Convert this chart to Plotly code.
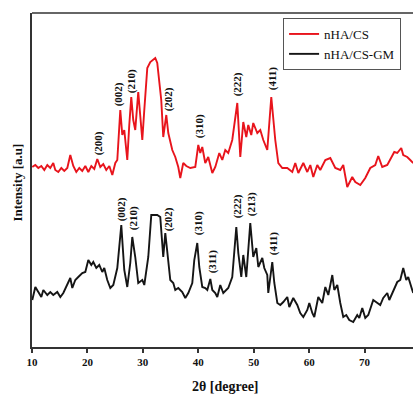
import plotly.graph_objects as go

# ---- data (2theta in degrees, intensity in arbitrary units) ----
cs_2theta = [
    10.05, 10.60, 11.14, 11.68, 12.22, 12.76, 13.30, 13.84, 14.20, 14.74,
    15.29, 15.83, 16.37, 16.91, 17.45, 17.99, 18.53, 19.07, 19.62, 20.16,
    20.70, 21.24, 21.78, 22.32, 22.86, 23.40, 23.95, 24.49, 25.03, 25.39,
    25.93, 26.29, 26.65, 27.19, 27.55, 27.91, 28.27, 28.63, 29.17, 29.53,
    29.90, 30.26, 30.80, 31.34, 31.88, 32.24, 32.60, 32.96, 33.32, 33.68,
    34.23, 34.59, 35.31, 35.85, 36.39, 36.75, 37.29, 37.84, 38.56, 39.46,
    40.00, 40.36, 40.72, 41.26, 41.80, 42.53, 43.07, 43.79, 44.33, 44.87,
    45.41, 46.13, 47.04, 47.58, 48.12, 48.66, 49.02, 49.56, 49.92, 50.65,
    51.19, 51.73, 52.45, 53.17, 53.89, 54.44, 55.16, 56.06, 56.96, 57.50,
    58.05, 58.95, 59.67, 60.21, 60.75, 61.47, 62.01, 62.92, 63.82, 64.72,
    65.62, 66.16, 66.88, 67.78, 68.33, 69.23, 70.13, 71.03, 71.93, 72.47,
    73.19, 74.10, 74.64, 75.36, 75.90, 76.62, 76.98, 77.70, 78.24, 78.78,
]
cs_intensity = [
    180, 182, 179, 181, 177, 182, 179, 184, 177, 175,
    179, 176, 179, 192, 181, 175, 179, 176, 181, 175,
    181, 178, 188, 180, 183, 177, 181, 172, 184, 187,
    237, 212, 217, 187, 222, 250, 227, 217, 255, 232,
    207, 237, 279, 285, 287, 289, 284, 267, 247, 210,
    232, 214, 197, 190, 180, 169, 184, 181, 179, 180,
    202, 194, 200, 184, 190, 174, 180, 194, 187, 197,
    194, 207, 244, 190, 225, 210, 222, 212, 224, 214,
    217, 207, 197, 250, 207, 184, 179, 179, 175, 184,
    174, 184, 175, 182, 170, 182, 177, 187, 189, 179,
    177, 182, 160, 170, 165, 162, 169, 179, 182, 191,
    180, 182, 187, 195, 194, 199, 192, 190, 187, 184,
]

gm_2theta = [
    10.05, 10.60, 11.14, 11.68, 12.04, 12.76, 13.30, 13.84, 14.56, 15.11,
    15.65, 16.37, 16.91, 17.27, 17.81, 18.35, 19.07, 19.62, 20.16, 20.70,
    21.06, 21.60, 22.14, 22.68, 23.04, 23.58, 24.13, 24.67, 25.39, 26.11,
    26.65, 27.19, 27.73, 28.09, 28.63, 29.17, 29.90, 30.26, 30.98, 31.52,
    32.60, 33.14, 33.68, 34.05, 34.41, 34.95, 35.49, 35.85, 36.39, 37.11,
    37.66, 38.20, 38.92, 39.28, 39.82, 40.18, 40.72, 41.26, 41.63, 42.17,
    42.53, 43.07, 43.43, 43.97, 44.51, 45.05, 45.41, 46.13, 46.86, 47.22,
    47.76, 48.12, 48.66, 49.38, 49.92, 50.47, 50.83, 51.55, 51.91, 52.45,
    52.63, 53.35, 53.72, 54.26, 54.80, 55.34, 56.06, 56.42, 57.14, 57.86,
    58.40, 58.95, 59.67, 60.03, 60.57, 60.93, 61.65, 62.37, 62.92, 63.46,
    64.18, 64.54, 65.08, 65.62, 66.16, 66.70, 67.24, 67.96, 68.68, 69.05,
    69.59, 70.13, 70.67, 71.57, 72.29, 72.83, 73.37, 74.10, 74.46, 75.18,
    75.90, 76.44, 76.98, 77.52, 77.88, 78.60, 78.78,
]
gm_intensity = [
    47, 60, 55, 50, 57, 52, 55, 52, 55, 50,
    54, 62, 69, 59, 67, 70, 74, 75, 87, 82,
    85, 79, 82, 75, 79, 67, 59, 62, 79, 122,
    77, 60, 84, 110, 90, 64, 67, 62, 90, 132,
    132, 130, 90, 114, 97, 67, 64, 57, 59, 55,
    49, 54, 64, 87, 104, 80, 60, 59, 57, 68,
    57, 54, 50, 62, 54, 57, 59, 70, 120, 94,
    70, 92, 70, 124, 90, 99, 80, 89, 79, 72,
    54, 85, 64, 44, 42, 45, 50, 40, 49, 42,
    34, 30, 37, 44, 34, 30, 50, 44, 60, 52,
    72, 57, 62, 44, 30, 32, 27, 25, 32, 29,
    39, 29, 32, 47, 44, 42, 49, 54, 47, 57,
    65, 67, 79, 67, 70, 57, 54,
]

# peak labels: (hkl text, 2theta, label base height)
cs_peak_labels = ["(200)", "(002)", "(210)", "(202)", "(310)", "(222)", "(411)"]
cs_peak_2theta = [21.96, 25.57, 27.91, 34.59, 40.18, 47.04, 53.35]
cs_peak_base = [190, 239, 252, 234, 207, 249, 255]

gm_peak_labels = ["(002)", "(210)", "(202)", "(310)", "(311)", "(222)", "(213)", "(411)"]
gm_peak_2theta = [26.11, 28.27, 34.59, 40.00, 42.53, 47.04, 49.56, 53.53]
gm_peak_base = [124, 115, 114, 110, 72, 127, 129, 90]

x_ticks = [10, 20, 30, 40, 50, 60, 70]

FONT = "Liberation Serif"
RED = "#e8141c"
BLACK = "#151515"
AXIS = "#333333"

fig = go.Figure()
fig.add_trace(go.Scatter(x=cs_2theta, y=cs_intensity, mode="lines", name="nHA/CS",
                         line=dict(color=RED, width=1.9)))
fig.add_trace(go.Scatter(x=gm_2theta, y=gm_intensity, mode="lines", name="nHA/CS-GM",
                         line=dict(color=BLACK, width=1.9)))

annotations = []
for txt, xv, yv in zip(cs_peak_labels, cs_peak_2theta, cs_peak_base):
    annotations.append(dict(x=xv, y=yv, xref="x", yref="y", text=txt, textangle=-90,
                            showarrow=False, xanchor="center", yanchor="bottom",
                            font=dict(family=FONT, size=11, color="#111", weight="bold")))
for txt, xv, yv in zip(gm_peak_labels, gm_peak_2theta, gm_peak_base):
    annotations.append(dict(x=xv, y=yv, xref="x", yref="y", text=txt, textangle=-90,
                            showarrow=False, xanchor="center", yanchor="bottom",
                            font=dict(family=FONT, size=11, color="#111", weight="bold")))

# axis titles
annotations.append(dict(x=-0.037, y=0.492, xref="paper", yref="paper",
                        text="Intensity [a.u]", textangle=-90, showarrow=False,
                        xanchor="center", yanchor="middle",
                        font=dict(family=FONT, size=13, color="#111", weight="bold")))
annotations.append(dict(x=0.509, y=-0.119, xref="paper", yref="paper",
                        text="2θ [degree]", showarrow=False,
                        xanchor="center", yanchor="middle",
                        font=dict(family=FONT, size=14, color="#111", weight="bold")))

fig.update_layout(
    width=413, height=396,
    margin=dict(l=32, r=0, t=13, b=49),
    paper_bgcolor="white", plot_bgcolor="white",
    font=dict(family=FONT, color="#111"),
    showlegend=True,
    legend=dict(x=0.659, y=0.985, xanchor="left", yanchor="top",
                bgcolor="white", bordercolor="#555", borderwidth=1,
                font=dict(family=FONT, size=13, color="#111"),
                itemwidth=30, tracegroupgap=0),
    annotations=annotations,
    shapes=[dict(type="line", xref="paper", yref="paper", x0=0, x1=1, y0=1, y1=1,
                 line=dict(color=AXIS, width=1.5))],
)
fig.update_xaxes(range=[10, 78.74], tickvals=x_ticks, ticks="outside", ticklen=4,
                 tickwidth=1.5, tickcolor=AXIS, showline=True, linewidth=1.5,
                 linecolor=AXIS, showgrid=False, zeroline=False,
                 tickfont=dict(family=FONT, size=11, color="#111", weight="bold"))
fig.update_yaxes(range=[0, 334], showline=True, linewidth=1.5, linecolor=AXIS,
                 showticklabels=False, ticks="", showgrid=False, zeroline=False)

fig.write_html("out.html", config={"displayModeBar": False},
               post_script="document.body.style.margin='0';document.body.style.padding='0';")
